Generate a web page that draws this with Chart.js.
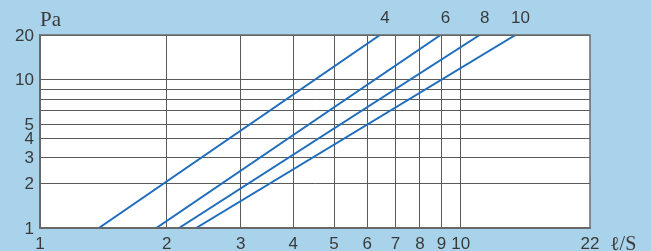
<!DOCTYPE html>
<html><head><meta charset="utf-8">
<script src="https://cdn.jsdelivr.net/npm/chart.js@4/dist/chart.umd.min.js"></script>
<style>html,body{margin:0;padding:0;background:#a9d3ea;}#c{display:block;}</style>
</head><body>
<canvas id="c" width="651" height="251"></canvas>
<script>
// ---- data ----
const seriesNames = ['4', '6', '8', '10'];
const flowStart = [1.38, 1.89, 2.14, 2.35];   // ℓ/S at 1 Pa
const flowEnd   = [6.43, 8.96, 11.1, 13.5];   // ℓ/S at 20 Pa
const pressureRange = [1, 20];                // Pa
const xGridValues = [1, 2, 3, 4, 5, 6, 7, 8, 9, 10];
const xTickLabels = ['1', '2', '3', '4', '5', '6', '7', '8', '9', '10'];
const xEndLabel = '22';
const xMax = 20.3;
const yGridValues = [1, 2, 3, 4, 5, 6.2, 7.3, 8.6, 10, 20];
const yTickValues = [1, 2, 3, 4, 5, 10, 20];
const yTickLabels = ['1', '2', '3', '4', '5', '10', '20'];
const yTitle = 'Pa';
const xTitle = 'ℓ/S';

const lineColor = '#1f6dbd';
const textColor = '#3a3a3a';
const numFont = '17px "Liberation Sans", Arial, sans-serif';

const datasets = seriesNames.map((n, i) => ({
  label: n,
  data: [{x: flowStart[i], y: pressureRange[0]}, {x: flowEnd[i], y: pressureRange[1]}],
  borderColor: lineColor,
  borderWidth: 2,
  pointRadius: 0,
  fill: false,
  tension: 0
}));

const deco = {
  id: 'deco',
  beforeDraw(chart) {
    const {ctx, chartArea: a} = chart;
    ctx.save();
    ctx.fillStyle = '#a9d3ea';
    ctx.fillRect(0, 0, chart.width, chart.height);
    ctx.fillStyle = '#ffffff';
    ctx.fillRect(a.left, a.top, a.right - a.left, a.bottom - a.top);
    ctx.restore();
  },
  afterDraw(chart) {
    const {ctx, chartArea: a, scales} = chart;
    const xs = scales.x, ys = scales.y;
    ctx.save();
    // full frame
    ctx.strokeStyle = '#6a6a6a';
    ctx.lineWidth = 1.5;
    ctx.strokeRect(a.left, a.top, a.right - a.left, a.bottom - a.top);
    ctx.fillStyle = textColor;
    ctx.font = numFont;
    // y tick labels
    ctx.textAlign = 'right';
    ctx.textBaseline = 'middle';
    yTickValues.forEach((v, i) => {
      ctx.fillText(yTickLabels[i], a.left - 6, ys.getPixelForValue(v) + 1);
    });
    // x tick labels
    ctx.textAlign = 'center';
    ctx.textBaseline = 'top';
    xGridValues.forEach((v, i) => {
      ctx.fillText(xTickLabels[i], xs.getPixelForValue(v), a.bottom + 8);
    });
    ctx.fillText(xEndLabel, a.right, a.bottom + 8);
    // series labels above the line ends
    ctx.textAlign = 'center';
    ctx.textBaseline = 'bottom';
    seriesNames.forEach((n, i) => {
      ctx.fillText(n, xs.getPixelForValue(flowEnd[i]) + 5, a.top - 8);
    });
    // axis titles
    ctx.font = '21px "Liberation Serif", "DejaVu Serif", serif';
    ctx.textAlign = 'left';
    ctx.textBaseline = 'alphabetic';
    ctx.fillText(yTitle, a.left, a.top - 9);
    ctx.font = '20px "Liberation Serif", "DejaVu Serif", serif';
    ctx.fillText(xTitle, a.right + 20, a.bottom + 22);
    ctx.restore();
  }
};

new Chart(document.getElementById('c'), {
  type: 'line',
  data: {datasets},
  options: {
    responsive: false,
    animation: false,
    events: [],
    layout: {padding: {left: 40, right: 61, top: 35, bottom: 23}},
    plugins: {legend: {display: false}, tooltip: {enabled: false}},
    scales: {
      x: {
        type: 'logarithmic',
        min: 1, max: xMax,
        afterBuildTicks: s => { s.ticks = xGridValues.map(v => ({value: v})); },
        ticks: {display: false},
        grid: {color: '#5a5a5a', lineWidth: 1, drawTicks: false},
        border: {display: true, color: '#6a6a6a', width: 1.5}
      },
      y: {
        type: 'logarithmic',
        min: pressureRange[0], max: pressureRange[1],
        afterBuildTicks: s => { s.ticks = yGridValues.map(v => ({value: v})); },
        ticks: {display: false},
        grid: {color: '#5a5a5a', lineWidth: 1, drawTicks: false},
        border: {display: true, color: '#6a6a6a', width: 1.5}
      }
    }
  },
  plugins: [deco]
});
</script>
</body></html>
